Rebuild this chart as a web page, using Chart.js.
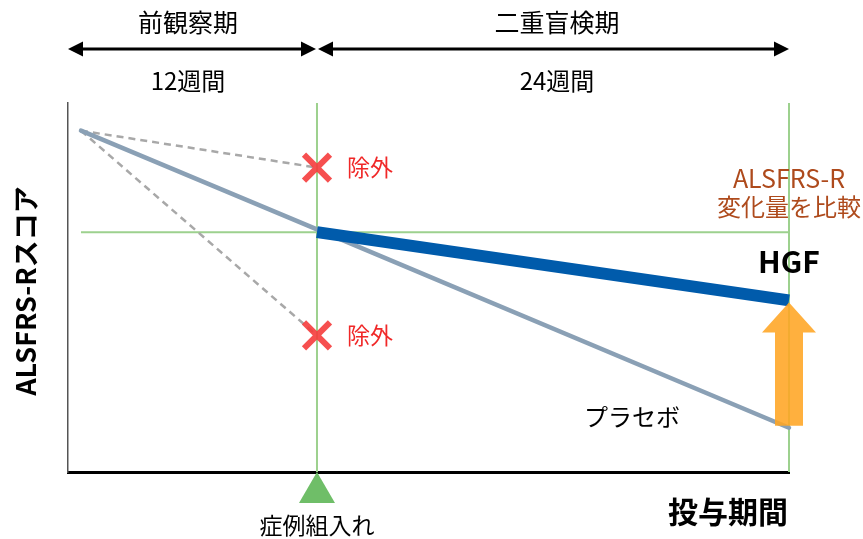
<!DOCTYPE html>
<html>
<head>
<meta charset="utf-8">
<script src="https://cdn.jsdelivr.net/npm/chart.js@4/dist/chart.umd.min.js"></script>
<style>
  body { margin: 0; background: #fff; }
  #wrap { width: 863px; height: 539px; }
</style>
</head>
<body>
<div id="wrap"><canvas id="alsChart"></canvas></div>
<script>
// weeks relative to enrollment
const weeks = [-12, 0, 24];
const placebo = [37, 26.3, 4.8];
const hgf = [null, 26, 18.6];
const excludedSlow = [37, 33];
const excludedFast = [37, 14.8];
const baselineLevel = 26;
const phaseLabels = ['前観察期', '二重盲検期'];
const phaseLengths = ['12週間', '24週間'];

const FONT = '"Noto Sans CJK JP", "Noto Sans", sans-serif';
const green = '#9dd18e';

const pts = (xs, ys) => xs.map((x, i) => ({ x: x, y: ys[i] })).filter(p => p.y !== null);

const annotations = {
    id: 'annotations',
    afterDatasetsDraw(chart) {
        const ctx = chart.ctx;
        const x = chart.scales.x, y = chart.scales.y;
        const area = chart.chartArea;
        const xEnroll = x.getPixelForValue(weeks[1]);
        const xEnd = x.getPixelForValue(weeks[2]);
        ctx.save();

        // top phase arrows
        const arrowY = 49;
        const drawHead = (tipX, dir) => {
            ctx.beginPath();
            ctx.moveTo(tipX, arrowY);
            ctx.lineTo(tipX - dir * 15, arrowY - 7.5);
            ctx.lineTo(tipX - dir * 15, arrowY + 7.5);
            ctx.closePath();
            ctx.fill();
        };
        ctx.fillStyle = '#000';
        ctx.strokeStyle = '#000';
        ctx.lineWidth = 3;
        [[area.left, xEnroll - 1], [xEnroll + 1, xEnd]].forEach(([a, b]) => {
            ctx.beginPath();
            ctx.moveTo(a + 8, arrowY);
            ctx.lineTo(b - 8, arrowY);
            ctx.stroke();
            drawHead(a, -1);
            drawHead(b, 1);
        });

        ctx.textAlign = 'center';
        ctx.textBaseline = 'middle';
        ctx.font = '25px ' + FONT;
        ctx.fillText(phaseLabels[0], 188, 22);
        ctx.fillText(phaseLabels[1], 557, 22);
        ctx.font = '24px ' + FONT;
        ctx.fillText(phaseLengths[0], 188, 81);
        ctx.fillText(phaseLengths[1], 557, 81);

        // excluded marks
        [excludedSlow[1], excludedFast[1]].forEach(v => {
            const py = y.getPixelForValue(v);
            ctx.strokeStyle = 'rgba(245, 60, 60, 0.9)';
            ctx.lineWidth = 6;
            ctx.beginPath();
            ctx.moveTo(xEnroll - 13, py - 13);
            ctx.lineTo(xEnroll + 13, py + 13);
            ctx.moveTo(xEnroll + 13, py - 13);
            ctx.lineTo(xEnroll - 13, py + 13);
            ctx.stroke();
            ctx.fillStyle = '#f02828';
            ctx.textAlign = 'left';
            ctx.font = '23px ' + FONT;
            ctx.fillText('除外', xEnroll + 30, py);
        });

        // orange arrow
        const tipY = y.getPixelForValue(hgf[2]) + 2;
        const baseY = y.getPixelForValue(placebo[2]) - 2;
        ctx.fillStyle = 'rgba(255, 165, 35, 0.88)';
        ctx.beginPath();
        ctx.moveTo(xEnd, tipY);
        ctx.lineTo(xEnd + 27, tipY + 30);
        ctx.lineTo(xEnd + 14, tipY + 30);
        ctx.lineTo(xEnd + 14, baseY);
        ctx.lineTo(xEnd - 14, baseY);
        ctx.lineTo(xEnd - 14, tipY + 30);
        ctx.lineTo(xEnd - 27, tipY + 30);
        ctx.closePath();
        ctx.fill();

        // right side labels
        ctx.textAlign = 'center';
        ctx.fillStyle = '#ae4a1c';
        ctx.font = '25px ' + FONT;
        ctx.fillText('ALSFRS-R', 789, 178);
        ctx.font = '24px ' + FONT;
        ctx.fillText('変化量を比較', 789, 207);
        ctx.fillStyle = '#000';
        ctx.font = 'bold 30px ' + FONT;
        ctx.fillText('HGF', 789, 262);
        ctx.font = '24px ' + FONT;
        ctx.fillText('プラセボ', 632, 417);

        // enrollment marker
        ctx.fillStyle = '#6fbe68';
        ctx.beginPath();
        ctx.moveTo(xEnroll, area.bottom);
        ctx.lineTo(xEnroll + 18, area.bottom + 31);
        ctx.lineTo(xEnroll - 18, area.bottom + 31);
        ctx.closePath();
        ctx.fill();
        ctx.fillStyle = '#000';
        ctx.font = '23px ' + FONT;
        ctx.fillText('症例組入れ', xEnroll, 525);

        ctx.textAlign = 'right';
        ctx.font = 'bold 30px ' + FONT;
        ctx.fillText('投与期間', 788, 512);

        // y title
        ctx.translate(26, 291);
        ctx.rotate(-Math.PI / 2);
        ctx.textAlign = 'center';
        ctx.font = 'bold 27px ' + FONT;
        ctx.fillText('ALSFRS-Rスコア', 0, 0);
        ctx.restore();
    }
};

const lineDs = (label, data, color, width, extra) => Object.assign({
    label: label,
    data: data,
    borderColor: color,
    borderWidth: width,
    pointRadius: 0,
    tension: 0,
    clip: false,
    fill: false
}, extra || {});

const config = {
    type: 'line',
    data: {
        datasets: [
            lineDs('HGF', pts(weeks, hgf), '#005bab', 12, { borderCapStyle: 'butt' }),
            lineDs('プラセボ', pts(weeks, placebo), '#8aa0b5', 4.5, { borderCapStyle: 'round' }),
            lineDs('除外1', pts(weeks.slice(0, 2), excludedSlow), '#a8a8a8', 2.5, { borderDash: [7, 5] }),
            lineDs('除外2', pts(weeks.slice(0, 2), excludedFast), '#a8a8a8', 2.5, { borderDash: [7, 5] }),
            lineDs('基準', [{ x: weeks[0], y: baselineLevel }, { x: weeks[2], y: baselineLevel }], green, 2),
            lineDs('組入れ', [{ x: weeks[1], y: 0 }, { x: weeks[1], y: 40 }], green, 2),
            lineDs('終了', [{ x: weeks[2], y: 0 }, { x: weeks[2], y: 40 }], green, 2)
        ]
    },
    options: {
        responsive: true,
        maintainAspectRatio: false,
        animation: false,
        layout: { padding: { left: 68, right: 74, top: 103, bottom: 67 } },
        plugins: { legend: { display: false }, tooltip: { enabled: false } },
        scales: {
            x: {
                type: 'linear',
                min: -12.66,
                max: 24,
                ticks: { display: false },
                grid: { display: false, drawTicks: false },
                border: { display: true, color: '#000', width: 3 }
            },
            y: {
                min: 0,
                max: 40,
                ticks: { display: false },
                grid: { display: false, drawTicks: false },
                border: { display: true, color: '#555', width: 1.5 }
            }
        }
    },
    plugins: [annotations]
};

const myChart = new Chart(document.getElementById('alsChart'), config);
</script>
</body>
</html>
